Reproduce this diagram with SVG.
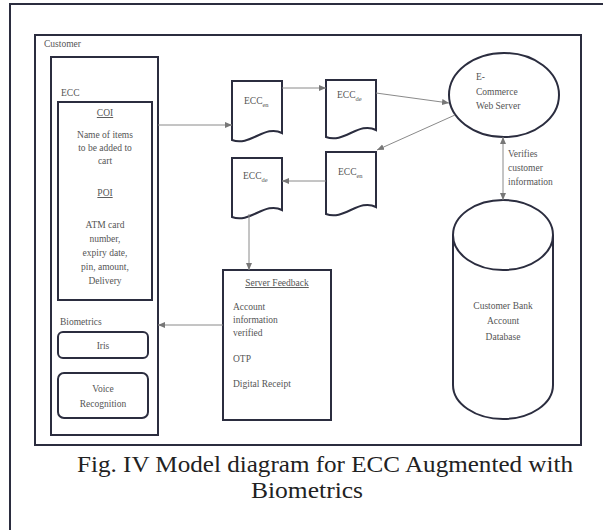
<svg xmlns="http://www.w3.org/2000/svg" width="603" height="530" viewBox="0 0 603 530">
<defs>
<marker id="ah" markerWidth="8" markerHeight="8" refX="7" refY="4" orient="auto" markerUnits="userSpaceOnUse">
<path d="M0,1 L7,4 L0,7 Z" fill="#777"/>
</marker>
<marker id="ahs" markerWidth="8" markerHeight="8" refX="1" refY="4" orient="auto" markerUnits="userSpaceOnUse">
<path d="M8,1 L1,4 L8,7 Z" fill="#777"/>
</marker>
</defs>
<style>
.frame{fill:none;stroke:#2b2d3f;stroke-width:2}
.box{fill:#fff;stroke:#2b2d3f;stroke-width:2}
.t{font-family:"Liberation Serif",serif;font-size:9.5px;fill:#555}
.tc{font-family:"Liberation Serif",serif;font-size:9.5px;fill:#555;text-anchor:middle}
.sub{font-size:6.5px}
.con{fill:none;stroke:#8a8a8a;stroke-width:1}
.cap{font-family:"Liberation Serif",serif;font-size:23px;fill:#222}
</style>
<rect width="603" height="530" fill="#fff"/>
<rect x="10" y="4" width="600" height="540" class="frame"/>
<g id="customer">
<rect x="35" y="35" width="546" height="410" class="frame"/>
<text x="44" y="47" class="t">Customer</text>
</g>
<g id="customer-side">
<rect x="51" y="57" width="107" height="378" class="frame"/>
<text x="61" y="96" class="t">ECC</text>
</g>
<g id="ecc">
<rect x="58" y="102" width="94" height="198" class="box"/>
<text x="105" y="116" class="tc" text-decoration="underline">COI</text>
<text x="105" y="138" class="tc">Name of items</text>
<text x="105" y="151" class="tc">to be added to</text>
<text x="105" y="164" class="tc">cart</text>
<text x="105" y="196" class="tc" text-decoration="underline">POI</text>
<text x="105" y="228" class="tc">ATM card</text>
<text x="105" y="242" class="tc">number,</text>
<text x="105" y="256" class="tc">expiry date,</text>
<text x="105" y="270" class="tc">pin, amount,</text>
<text x="105" y="284" class="tc">Delivery</text>
</g>
<g id="biometrics">
<text x="60" y="325" class="t">Biometrics</text>
</g>
<g id="iris">
<rect x="58" y="332" width="90" height="26" rx="5" class="box"/>
<text x="103" y="349" class="tc">Iris</text>
</g>
<g id="voice">
<rect x="58" y="373" width="90" height="45" rx="6" class="box"/>
<text x="103" y="392" class="tc">Voice</text>
<text x="103" y="407" class="tc">Recognition</text>
</g>
<g id="doc1">
<path d="M232,81 H282 V133 C265,124 250,147 232,140 Z" class="box"/>
<text x="244" y="104" class="t">ECC<tspan class="sub" dy="3">en</tspan></text>
</g>
<g id="doc2">
<path d="M326,80 H376 V130 C359,121 344,144 326,137 Z" class="box"/>
<text x="337" y="98" class="t">ECC<tspan class="sub" dy="3">de</tspan></text>
</g>
<g id="doc3">
<path d="M232,158 H282 V210 C265,201 250,224 232,217 Z" class="box"/>
<text x="243" y="179" class="t">ECC<tspan class="sub" dy="3">de</tspan></text>
</g>
<g id="doc4">
<path d="M326,152 H376 V207 C359,198 344,221 326,214 Z" class="box"/>
<text x="338" y="175" class="t">ECC<tspan class="sub" dy="3">en</tspan></text>
</g>
<g id="server">
<ellipse cx="504" cy="95" rx="55" ry="42" class="box"/>
<text x="476" y="80" class="t">E-</text>
<text x="476" y="95" class="t">Commerce</text>
<text x="476" y="109" class="t">Web Server</text>
</g>
<g id="database">
<path d="M453,235 V385 A50,34 0 0 0 553,385 V235" class="box"/>
<ellipse cx="503" cy="235" rx="50" ry="35" class="box"/>
<text x="503" y="309" class="tc">Customer Bank</text>
<text x="503" y="324" class="tc">Account</text>
<text x="503" y="340" class="tc">Database</text>
</g>
<g id="feedback">
<rect x="223" y="270" width="108" height="150" class="box"/>
<text x="277" y="286" class="tc" text-decoration="underline">Server Feedback</text>
<text x="233" y="310" class="t">Account</text>
<text x="233" y="323" class="t">information</text>
<text x="233" y="336" class="t">verified</text>
<text x="233" y="362" class="t">OTP</text>
<text x="233" y="387" class="t">Digital Receipt</text>
</g>
<g id="connectors">
<line x1="158" y1="125" x2="232" y2="125" class="con" marker-end="url(#ah)"/>
<line x1="282" y1="88" x2="326" y2="88" class="con" marker-end="url(#ah)"/>
<line x1="376" y1="93" x2="449" y2="103" class="con" marker-end="url(#ah)"/>
<line x1="455" y1="115" x2="377" y2="150" class="con" marker-end="url(#ah)"/>
<line x1="326" y1="181" x2="282" y2="181" class="con" marker-end="url(#ah)"/>
<line x1="249" y1="214" x2="249" y2="270" class="con" marker-end="url(#ah)"/>
<line x1="223" y1="325" x2="158" y2="325" class="con" marker-end="url(#ah)"/>
<line x1="503" y1="137" x2="503" y2="200" class="con" marker-start="url(#ahs)" marker-end="url(#ah)"/>
<text x="508" y="157" class="t">Verifies</text>
<text x="508" y="171" class="t">customer</text>
<text x="508" y="185" class="t">information</text>
</g>
<g id="caption">
<text x="77" y="472" class="cap" textLength="496" lengthAdjust="spacingAndGlyphs">Fig. IV Model diagram for ECC Augmented with</text>
<text x="307" y="498" class="cap" text-anchor="middle" textLength="112" lengthAdjust="spacingAndGlyphs">Biometrics</text>
</g>
</svg>
